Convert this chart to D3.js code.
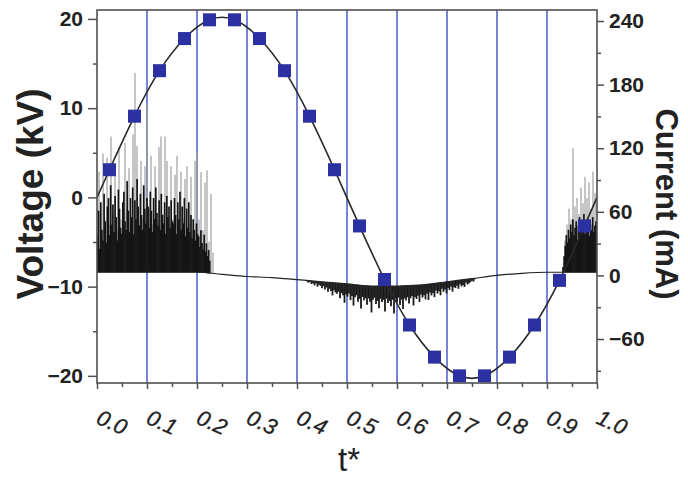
<!DOCTYPE html>
<html><head><meta charset="utf-8">
<script src="https://cdn.jsdelivr.net/npm/d3@7"></script>
<style>body{margin:0;background:#fff}svg{display:block}</style>
</head><body><svg id="c" width="688" height="481"></svg>
<script>
// ---- data ----
const markerT = [0.025,0.075,0.125,0.175,0.225,0.275,0.325,0.375,0.425,0.475,0.525,0.575,0.625,0.675,0.725,0.775,0.825,0.875,0.925,0.975];
const voltage = [3.1,9.1,14.2,17.8,19.9,19.9,17.8,14.2,9.1,3.1,-3.2,-9.2,-14.3,-17.9,-20.0,-20.0,-17.9,-14.3,-9.3,-3.2];
const lineEndT = [0, 1];
const lineEndV = [0, 0];
const xTicks = [0,0.1,0.2,0.3,0.4,0.5,0.6,0.7,0.8,0.9,1.0];
const xTickLabels = ["0.0","0.1","0.2","0.3","0.4","0.5","0.6","0.7","0.8","0.9","1.0"];
const xMinor = [0.05,0.15,0.25,0.35,0.45,0.55,0.65,0.75,0.85,0.95];
const gridT = [0.1,0.2,0.3,0.4,0.5,0.6,0.7,0.8,0.9];
const vTicks = [20,10,0,-10,-20];
const vMinor = [15,5,-5,-15];
const iTicks = [240,180,120,60,0,-60];
const iMinor = [210,150,90,30,-30,-90];
// current baseline (mA)
const baseT = [0,0.1,0.2,0.25,0.3,0.35,0.4,0.45,0.5,0.55,0.6,0.65,0.7,0.75,0.8,0.85,0.9,0.95,1.0];
const baseI = [3,3,3,1,-1,-2,-4,-6,-8,-10,-10,-9,-6,-3,0,2,3,3,3];
// burst 1 (positive discharges) dense black spikes, mA above baseline
const burst1BlackStart = 0.001, burst1BlackStep = 0.0022;
const burst1Black = [35,58,22,66,40,30,74,48,28,
 62,70,35,82,45,64,38,72,52,30,78,60,42,36,
 66,76,48,40,86,58,38,70,52,80,36,68,50,88,62,44,74,54,40,82,60,46,70,
 62,42,76,58,38,70,50,80,56,44,68,40,74,54,46,66,36,72,52,62,42,68,48,
 46,70,54,36,66,50,76,40,62,46,70,34,60,42,66,38,54,32,50,40,30,46,36,
 34,24,40,28,22,36,20,28,16,22,12];
// burst 1 grey (isolated tall) spikes
const burst1GreyStart = 0.0, burst1GreyStep = 0.004;
const burst1Grey = [60,95,40,112,50,108,45,128,55,100,40,118,50,45,122,60,98,50,130,188,119,45,105,50,100,158,60,110,45,100,50,118,128,55,128,105,45,100,50,92,110,40,95,50,88,100,45,90,40,105,114,50,95,40,85,97,30,75,20];
// burst 2 (negative discharges), mA below baseline
const burst2Start = 0.42, burst2Step = 0.003;
const burst2 = [1,2,1,3,2,4,2,5,3,4,
 6,4,7,5,9,6,8,12,7,9,
 10,8,14,9,11,18,10,12,9,15,
 11,20,12,10,16,13,22,11,14,12,
 18,12,15,25,13,11,17,14,21,12,
 15,13,24,12,16,14,19,13,26,12,
 15,11,18,13,22,12,14,11,17,12,
 10,19,11,13,10,16,9,12,10,14,
 9,15,8,11,9,13,7,10,8,12,
 6,9,7,11,6,8,5,10,6,7,
 5,8,4,6,5,7,3,5,4,3,2,3,1];
// burst 3 (positive, end of period)
const burst3BlackStart = 0.932, burst3BlackStep = 0.0022;
const burst3Black = [5,15,25,35,28,40,32,45,38,50,35,42,48,30,44,52,38,46,40,55,36,48,42,50,34,45,40,52,38,44,48];
const burst3GreyStart = 0.936, burst3GreyStep = 0.004;
const burst3Grey = [30,45,60,50,117,62,70,55,80,65,90,70,85,60,95,75,65];

// ---- layout ----
const L = 97, R = 597, T = 10, B = 383;
const svg = d3.select("#c");
const x = d3.scaleLinear().domain([0,1]).range([L,R]);
const yV = d3.scaleLinear().domain([-20.8,21.0]).range([B,T]);
const yI = d3.scaleLinear().domain([-101.5,250.4]).range([B,T]);
const base = d3.scaleLinear().domain(baseT).range(baseI);

svg.append("defs").append("clipPath").attr("id","clip")
  .append("rect").attr("x",L).attr("y",T).attr("width",R-L).attr("height",B-T);

// grid
svg.append("g").selectAll("line").data(gridT).join("line")
  .attr("x1",d=>x(d)).attr("x2",d=>x(d)).attr("y1",T).attr("y2",B)
  .attr("stroke","#5566cc").attr("stroke-width",1.6);

const plot = svg.append("g").attr("clip-path","url(#clip)");

function spikes(vals, start, step, sign, color, w, op){
  const d = vals.map((v,i)=>({t:start+i*step, v}));
  plot.append("g").selectAll("line").data(d).join("line")
    .attr("x1",p=>x(p.t)).attr("x2",p=>x(p.t))
    .attr("y1",p=>yI(base(p.t))).attr("y2",p=>yI(base(p.t)+sign*p.v))
    .attr("stroke",color).attr("stroke-width",w).attr("stroke-opacity",op);
}
spikes(burst1Grey, burst1GreyStart, burst1GreyStep, 1, "#a0a0a0", 1.2, 1);
spikes(burst3Grey, burst3GreyStart, burst3GreyStep, 1, "#a0a0a0", 1.2, 1);
spikes(burst1Black, burst1BlackStart, burst1BlackStep, 1, "#151515", 1.7, 1);
spikes(burst3Black, burst3BlackStart, burst3BlackStep, 1, "#151515", 1.7, 1);
spikes(burst2, burst2Start, burst2Step, -1, "#1a1a1a", 1.8, 1);

// baseline of current
const baseLine = d3.line().x(d=>x(d[0])).y(d=>yI(d[1])).curve(d3.curveMonotoneX);
plot.append("path").datum(baseT.map((t,i)=>[t,baseI[i]]))
  .attr("d",baseLine).attr("fill","none").attr("stroke","#222").attr("stroke-width",1.2);

// voltage line
const lineData = [[lineEndT[0],lineEndV[0]], ...markerT.map((t,i)=>[t,voltage[i]]), [lineEndT[1],lineEndV[1]]];
plot.append("path").datum(lineData)
  .attr("d", d3.line().x(d=>x(d[0])).y(d=>yV(d[1])).curve(d3.curveNatural))
  .attr("fill","none").attr("stroke","#2a2a2a").attr("stroke-width",1.6);

// markers
const ms = 13;
svg.append("g").selectAll("rect").data(markerT.map((t,i)=>[t,voltage[i]])).join("rect")
  .attr("x",d=>x(d[0])-ms/2).attr("y",d=>yV(d[1])-ms/2).attr("width",ms).attr("height",ms)
  .attr("fill","#2b31a3");

// frame
const frameColor = "#505050";
svg.append("rect").attr("x",L).attr("y",T).attr("width",R-L).attr("height",B-T)
  .attr("fill","none").attr("stroke",frameColor).attr("stroke-width",1.6);

// axes
const font = "'Liberation Sans', Arial, sans-serif";
const gL = svg.append("g").attr("transform",`translate(${L},0)`)
  .call(d3.axisLeft(yV).tickValues(vTicks).tickSize(9).tickPadding(5).tickFormat(d3.format("d")));
const gLm = svg.append("g").attr("transform",`translate(${L},0)`)
  .call(d3.axisLeft(yV).tickValues(vMinor).tickSize(4).tickFormat(""));
const gR = svg.append("g").attr("transform",`translate(${R},0)`)
  .call(d3.axisRight(yI).tickValues(iTicks).tickSize(7).tickPadding(5).tickFormat(d3.format("d")));
const gRm = svg.append("g").attr("transform",`translate(${R},0)`)
  .call(d3.axisRight(yI).tickValues(iMinor).tickSize(4).tickFormat(""));
const gB = svg.append("g").attr("transform",`translate(0,${B})`)
  .call(d3.axisBottom(x).tickValues(xTicks).tickSize(6).tickFormat(""));
const gBm = svg.append("g").attr("transform",`translate(0,${B})`)
  .call(d3.axisBottom(x).tickValues(xMinor).tickSize(4).tickFormat(""));
[gL,gLm,gR,gRm,gB,gBm].forEach(g=>{
  g.select(".domain").remove();
  g.selectAll(".tick line").attr("stroke",frameColor).attr("stroke-width",1.5);
  g.selectAll("text").attr("font-family",font).attr("font-weight","bold")
    .attr("font-size",21).attr("fill","#222");
});

// rotated italic x tick labels
svg.append("g").selectAll("text").data(xTicks).join("text")
  .attr("transform",(d)=>`translate(${x(d)-2},423) rotate(24)`)
  .attr("font-family",font).attr("font-style","italic").attr("font-size",22)
  .attr("fill","#222").attr("stroke","#222").attr("stroke-width",0.3)
  .text((d,i)=>xTickLabels[i]);

// axis titles
svg.append("text").attr("transform","translate(43,194) rotate(-90)")
  .attr("text-anchor","middle").attr("font-family",font).attr("font-weight","bold")
  .attr("font-size",37).attr("fill","#222").text("Voltage (kV)");
svg.append("text").attr("transform","translate(656,204) rotate(90)")
  .attr("text-anchor","middle").attr("font-family",font).attr("font-weight","bold")
  .attr("font-size",31).attr("fill","#222").text("Current (mA)");
svg.append("text").attr("x",349).attr("y",471).attr("text-anchor","middle")
  .attr("font-family",font).attr("font-size",33).attr("fill","#222").text("t*");
</script></body></html>
